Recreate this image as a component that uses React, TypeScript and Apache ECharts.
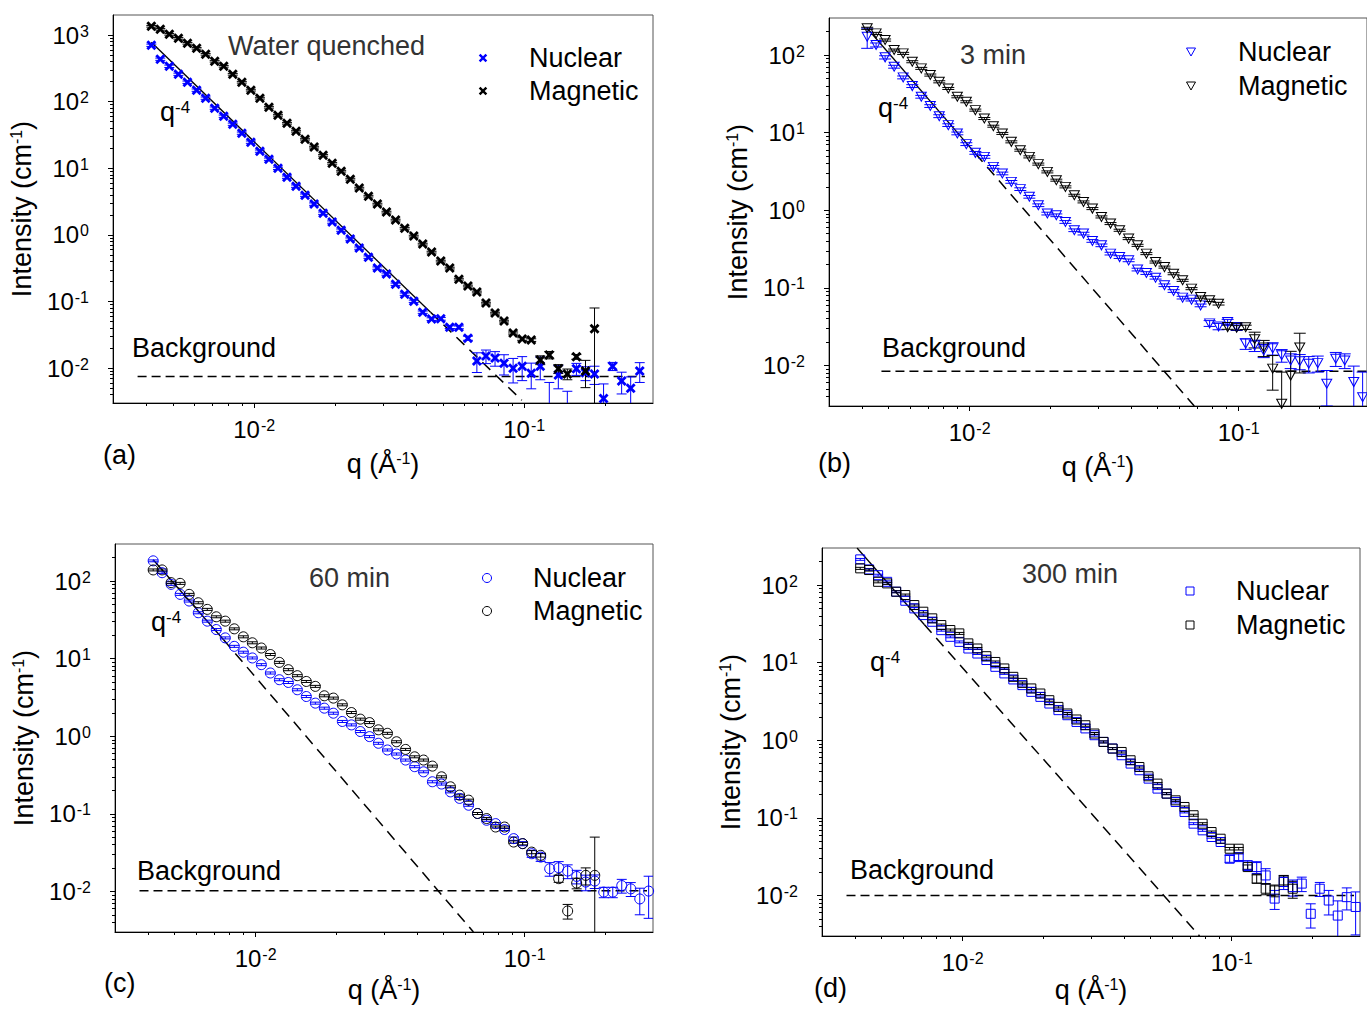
import React, { useEffect, useRef } from "react";
import * as echarts from "echarts";

const FONT = '"Liberation Sans", Arial, Helvetica, sans-serif';
const BLUE = "#0000ff";
const BLACK = "#000000";
const L = (v: number) => Math.log10(v);

// common q grid (Å^-1)
const Q = [0.00416, 0.00449, 0.00485, 0.00524, 0.00566, 0.00612, 0.00661, 0.00714, 0.00771, 0.00833,
  0.0090, 0.00972, 0.0105, 0.01134, 0.01225, 0.01323, 0.01429, 0.01543, 0.01667, 0.0180,
  0.01945, 0.0210, 0.0227, 0.0245, 0.0265, 0.0286, 0.0309, 0.0334, 0.0361, 0.0390,
  0.0421, 0.0454, 0.0491, 0.0530, 0.0573, 0.0619, 0.0668, 0.0722, 0.0780, 0.0842,
  0.0910, 0.0983, 0.1062, 0.1147, 0.1239, 0.1338, 0.1445, 0.1561, 0.1687, 0.1822,
  0.1968, 0.2126, 0.2296, 0.2480, 0.2679, 0.289];

// axis ticks
const X_RANGE = [0.003, 0.3];
const X_MAJOR = [0.01, 0.1];
const X_MINOR = [0.004, 0.005, 0.006, 0.007, 0.008, 0.009, 0.02, 0.03, 0.04, 0.05, 0.06, 0.07, 0.08, 0.09, 0.2];
const Y_RANGE_A = [0.003, 2000];
const Y_RANGE_BCD = [0.003, 300];
const Y_MAJOR_A = [0.01, 0.1, 1, 10, 100, 1000];
const Y_MAJOR_BCD = [0.01, 0.1, 1, 10, 100];
const MINOR_MULT = [2, 3, 4, 5, 6, 7, 8, 9];
const DECADES_A = [0.001, 0.01, 0.1, 1, 10, 100, 1000];
const DECADES_BCD = [0.001, 0.01, 0.1, 1, 10, 100];

// (a) Water quenched
const NUC_A = [703, 434, 340, 258, 196, 149, 113, 80, 60.5, 45.9, 33.7, 24.7, 18.1, 13.7, 10.0, 7.36, 5.40, 3.95, 2.90, 2.12,
  1.56, 1.18, 0.865, 0.634, 0.464, 0.318, 0.258, 0.182, 0.129, 0.101, 0.0693, 0.0545, 0.055, 0.0413, 0.041, 0.0282,
  0.0128, 0.0152, 0.0142, 0.0119, 0.0100, 0.0107, 0.0084, 0.0107, 0.0015, 0.0079, 0.0020, 0.0098, 0.0085, 0.0082,
  0.0035, 0.0107, 0.0064, 0.0050, 0.0091];
const NUC_A_ERR = [28, 17, 14, 10, 8, 6, 4.5, 3.2, 2.4, 1.8, 1.3, 1.0, 0.7, 0.55, 0.4, 0.3, 0.22, 0.16, 0.12, 0.085,
  0.062, 0.047, 0.035, 0.025, 0.019, 0.013, 0.010, 0.0073, 0.0052, 0.004, 0.0028, 0.0025, 0.0025, 0.002, 0.002, 0.002,
  0.0042, 0.0035, 0.0035, 0.004, 0.004, 0.0042, 0.0035, 0.004, 0.0046, 0.003, 0.0025, 0.002, 0.002, 0.0025,
  0.0023, 0.0015, 0.0023, 0.0024, 0.003];
const MAG_A = [1355, 1222, 1028, 895, 753, 634, 515, 405, 340, 258, 196, 149, 113, 82.6, 62.7, 47.5, 36.1, 27.4, 20.8, 15.7,
  11.9, 9.06, 6.87, 5.04, 3.82, 2.90, 2.20, 1.67, 1.26, 0.96, 0.728, 0.552, 0.405, 0.318, 0.217, 0.171, 0.139, 0.0948,
  0.0671, 0.0509, 0.0337, 0.0274, 0.0264, 0.0133, 0.0158, 0.0098, 0.0082, 0.0148, 0.0091, 0.039];
const MAG_A_ERR = [40, 36, 30, 26, 22, 18, 15, 12, 10, 7.7, 5.9, 4.5, 3.4, 2.5, 1.9, 1.4, 1.1, 0.82, 0.62, 0.47,
  0.36, 0.27, 0.21, 0.15, 0.11, 0.087, 0.066, 0.05, 0.038, 0.029, 0.022, 0.017, 0.012, 0.0095, 0.0065, 0.0051, 0.0042,
  0.0028, 0.002, 0.0015, 0.0012, 0.0012, 0.0012, 0.002, 0.002, 0.0015, 0.0015, 0.0012, 0.004, 0.041];
const BG_Q_A = [0.0037, 0.28];
const BG_I_A = [0.0075, 0.0075];
const FIT_Q_A = [0.00416, 0.045, 0.098];
const FIT_I_A = [780, 0.069, 0.0033];

// (b) 3 min
const NUC_B = [172, 135, 93.4, 70.7, 51.5, 39.8, 29.0, 22.0, 16.3, 12.5, 9.77, 7.11, 5.49, 4.87, 3.62, 2.98, 2.32, 1.87,
  1.49, 1.16, 0.906, 0.861, 0.706, 0.552, 0.500, 0.402, 0.353, 0.276, 0.249, 0.226, 0.172, 0.155, 0.135, 0.108, 0.091,
  0.0748, 0.0705, 0.0594, 0.0348, 0.0318, 0.0362, 0.0312, 0.0191, 0.0181, 0.0156, 0.0166, 0.0135, 0.0116, 0.0113,
  0.0105, 0.0107, 0.0058, 0.0122, 0.0116, 0.0061, 0.0039];
const NUC_B_ERR = [50, 8, 4.5, 3, 2.2, 1.7, 1.2, 0.9, 0.7, 0.5, 0.4, 0.3, 0.23, 0.2, 0.15, 0.12, 0.095, 0.075, 0.06, 0.047,
  0.037, 0.035, 0.029, 0.022, 0.02, 0.016, 0.014, 0.011, 0.01, 0.009, 0.0069, 0.0062, 0.0054, 0.0043, 0.0036, 0.003,
  0.0028, 0.0024, 0.003, 0.003, 0.003, 0.003, 0.003, 0.003, 0.003, 0.003, 0.0025, 0.0025, 0.0025, 0.0025,
  0.0025, 0.0028, 0.0025, 0.0025, 0.0037, 0.0043];
const MAG_B = [221, 190, 156, 116, 105, 82, 67.3, 55.2, 45.2, 37.1, 29.0, 25.0, 19.5, 15.2, 12.1, 9.77, 7.61, 5.94, 4.87,
  3.93, 3.12, 2.44, 2.00, 1.56, 1.28, 1.05, 0.82, 0.673, 0.552, 0.431, 0.353, 0.276, 0.215, 0.185, 0.152, 0.125, 0.0976,
  0.076, 0.069, 0.0625, 0.0312, 0.0306, 0.031, 0.0218, 0.0170, 0.0091, 0.0032, 0.0074, 0.017];
const MAG_B_ERR = [7, 6, 5, 3.5, 3.2, 2.5, 2, 1.7, 1.4, 1.1, 0.9, 0.75, 0.6, 0.46, 0.36, 0.29, 0.23, 0.18, 0.15, 0.12,
  0.094, 0.073, 0.06, 0.047, 0.038, 0.032, 0.025, 0.02, 0.017, 0.013, 0.011, 0.0083, 0.0065, 0.0056, 0.0046, 0.0038,
  0.003, 0.0025, 0.0025, 0.0025, 0.002, 0.002, 0.002, 0.005, 0.004, 0.0043, 0.005, 0.0078, 0.009];
const BG_Q_B = [0.0047, 0.3];
const BG_I_B = [0.0084, 0.0084];
const FIT_Q_B = [0.00416, 0.0105, 0.0684];
const FIT_I_B = [221, 5.4, 0.003];

// (c) 60 min
const NUC_C = [182, 128, 90.6, 67.3, 55.2, 39.0, 30.4, 23.7, 18.5, 14.4, 12.1, 10.2, 8.36, 6.53, 5.35, 4.93, 3.97, 3.25,
  2.67, 2.30, 1.98, 1.55, 1.40, 1.15, 0.989, 0.811, 0.665, 0.590, 0.493, 0.405, 0.348, 0.259, 0.242, 0.192, 0.158,
  0.129, 0.101, 0.0826, 0.0748, 0.0627, 0.0479, 0.0413, 0.0306, 0.0277, 0.0196, 0.0202, 0.0183, 0.0156, 0.0132,
  0.0136, 0.0098, 0.0098, 0.0119, 0.0108, 0.0080, 0.0101];
const NUC_C_ERR = [5, 3.5, 2.7, 2, 1.6, 1.2, 0.9, 0.7, 0.55, 0.43, 0.36, 0.3, 0.25, 0.2, 0.16, 0.15, 0.12, 0.1, 0.08, 0.07,
  0.06, 0.047, 0.042, 0.035, 0.03, 0.024, 0.02, 0.018, 0.015, 0.012, 0.01, 0.008, 0.0073, 0.0058, 0.0047, 0.0039,
  0.003, 0.0025, 0.0022, 0.0019, 0.0024, 0.0025, 0.0031, 0.0033, 0.0039, 0.004, 0.0037, 0.0031, 0.003, 0.0027,
  0.0015, 0.0015, 0.0024, 0.0022, 0.003, 0.0056];
const MAG_C = [139, 139, 95.3, 93.3, 67.3, 52.5, 43.1, 34.6, 30.4, 24.2, 19.1, 16.0, 13.7, 11.3, 8.95, 7.21, 6.03, 5.08,
  4.39, 3.32, 3.10, 2.54, 2.02, 1.66, 1.50, 1.21, 1.09, 0.849, 0.676, 0.543, 0.493, 0.412, 0.300, 0.223, 0.174, 0.150,
  0.101, 0.0869, 0.0676, 0.0676, 0.0433, 0.0413, 0.0321, 0.0292, null, 0.0146, 0.0056, 0.0128, 0.0161, 0.0161];
const MAG_C_ERR = [4, 4, 2.8, 2.8, 2, 1.6, 1.3, 1, 0.9, 0.7, 0.57, 0.48, 0.41, 0.34, 0.27, 0.22, 0.18, 0.15, 0.13, 0.1,
  0.093, 0.076, 0.06, 0.05, 0.045, 0.036, 0.033, 0.025, 0.02, 0.016, 0.015, 0.012, 0.009, 0.0067, 0.0052, 0.0045,
  0.003, 0.0026, 0.002, 0.002, 0.0015, 0.0015, 0.0015, 0.0015, null, 0.0015, 0.0012, 0.002, 0.004, 0.034];
const BG_Q_C = [0.0037, 0.285];
const BG_I_C = [0.0102, 0.0102];
const FIT_Q_C = [0.00416, 0.0076, 0.0645];
const FIT_I_C = [188, 17.5, 0.003];

// (d) 300 min
const NUC_D = [214, 159, 134, 110, 82, 62.7, 50, 41, 33.6, 26.2, 21.5, 18.5, 15.2, 13.1, 10.8, 8.83, 7.26, 6.07, 5.13,
  4.20, 3.62, 2.97, 2.44, 2.10, 1.72, 1.42, 1.16, 0.951, 0.782, 0.640, 0.500, 0.410, 0.320, 0.238, 0.205, 0.160, 0.119,
  0.0841, 0.069, 0.0566, 0.0488, 0.0297, 0.0312, 0.0244, 0.0232, 0.0181, 0.0091, 0.0149, 0.0128, 0.0142, 0.0058,
  0.0122, 0.0086, 0.0055, 0.0095, 0.0071];
const NUC_D_ERR = [6, 4.5, 3.8, 3.1, 2.3, 1.8, 1.4, 1.2, 0.95, 0.75, 0.6, 0.52, 0.43, 0.37, 0.3, 0.25, 0.2, 0.17, 0.14,
  0.12, 0.1, 0.083, 0.068, 0.059, 0.048, 0.04, 0.032, 0.027, 0.022, 0.018, 0.014, 0.011, 0.009, 0.0067, 0.0057, 0.0045,
  0.0033, 0.0024, 0.002, 0.002, 0.002, 0.003, 0.003, 0.0035, 0.004, 0.004, 0.0025, 0.003, 0.003, 0.003, 0.002,
  0.0025, 0.003, 0.003, 0.003, 0.004];
const MAG_D = [164, 156, 110, 105, 82, 74.3, 55.2, 45.3, 37.2, 30.5, 26.3, 23.8, 17.7, 15.2, 12.1, 10.2, 8.41, 6.56, 5.48,
  4.65, 4.00, 3.28, 2.69, 2.21, 1.85, 1.56, 1.22, 0.951, 0.78, 0.706, 0.552, 0.452, 0.343, 0.276, 0.205, 0.168, 0.138,
  0.108, 0.084, 0.0656, 0.0538, 0.040, 0.040, 0.0232, 0.0164, 0.0122, 0.0116, 0.0156, 0.0122];
const MAG_D_ERR = [5, 4.7, 3.3, 3.2, 2.5, 2.2, 1.7, 1.4, 1.1, 0.9, 0.8, 0.7, 0.53, 0.46, 0.36, 0.3, 0.25, 0.2, 0.16, 0.14,
  0.12, 0.1, 0.08, 0.066, 0.055, 0.047, 0.037, 0.029, 0.023, 0.021, 0.017, 0.014, 0.01, 0.0083, 0.0062, 0.005, 0.0041,
  0.0032, 0.0025, 0.002, 0.0016, 0.0015, 0.0015, 0.0015, 0.002, 0.002, 0.002, 0.0025, 0.003];
const BG_Q_D = [0.0037, 0.285];
const BG_I_D = [0.0100, 0.0100];
const FIT_Q_D = [0.00405, 0.0072, 0.076];
const FIT_I_D = [300, 31, 0.003];

const X_SYMBOL = "path://M0,2L2,0L5,3L8,0L10,2L7,5L10,8L8,10L5,7L2,10L0,8L3,5Z";
const TRI_SYMBOL = "path://M0,0L10,0L5,9Z";
const X_PTS = [[0, 2], [2, 0], [5, 3], [8, 0], [10, 2], [7, 5], [10, 8], [8, 10], [5, 7], [2, 10], [0, 8], [3, 5]];

const PANELS: any[] = [
  {
    grid: { left: 113, top: 15, width: 540, height: 388 },
    yRange: Y_RANGE_A, yMajor: Y_MAJOR_A, decades: DECADES_A,
    kind: "x", cap: 5, xNameGap: 47,
    nuc: NUC_A, nucErr: NUC_A_ERR, mag: MAG_A, magErr: MAG_A_ERR,
    bgQ: BG_Q_A, bgI: BG_I_A, fitQ: FIT_Q_A, fitI: FIT_I_A,
    title: "Water quenched", titlePos: [228, 46], qPos: [160, 112], bgPos: [132, 348],
    legPos: [[483, 58], [483, 91]], legText: 529, tag: "(a)", tagPos: [103, 455],
  },
  {
    grid: { left: 829, top: 18, width: 538, height: 388 },
    yRange: Y_RANGE_BCD, yMajor: Y_MAJOR_BCD, decades: DECADES_BCD,
    kind: "tri", cap: 6, xNameGap: 47,
    nuc: NUC_B, nucErr: NUC_B_ERR, mag: MAG_B, magErr: MAG_B_ERR,
    bgQ: BG_Q_B, bgI: BG_I_B, fitQ: FIT_Q_B, fitI: FIT_I_B,
    title: "3 min", titlePos: [960, 55], qPos: [878, 108], bgPos: [882, 348],
    legPos: [[1191, 52], [1191, 86]], legText: 1238, tag: "(b)", tagPos: [818, 463],
  },
  {
    grid: { left: 115, top: 544, width: 538, height: 388 },
    yRange: Y_RANGE_BCD, yMajor: Y_MAJOR_BCD, decades: DECADES_BCD,
    kind: "circle", cap: 5, xNameGap: 44,
    nuc: NUC_C, nucErr: NUC_C_ERR, mag: MAG_C, magErr: MAG_C_ERR,
    bgQ: BG_Q_C, bgI: BG_I_C, fitQ: FIT_Q_C, fitI: FIT_I_C,
    title: "60 min", titlePos: [309, 578], qPos: [151, 622], bgPos: [137, 871],
    legPos: [[487, 578], [487, 611]], legText: 533, tag: "(c)", tagPos: [104, 983],
  },
  {
    grid: { left: 822, top: 548, width: 538, height: 388 },
    yRange: Y_RANGE_BCD, yMajor: Y_MAJOR_BCD, decades: DECADES_BCD,
    kind: "square", cap: 5, xNameGap: 40,
    nuc: NUC_D, nucErr: NUC_D_ERR, mag: MAG_D, magErr: MAG_D_ERR,
    bgQ: BG_Q_D, bgI: BG_I_D, fitQ: FIT_Q_D, fitI: FIT_I_D,
    title: "300 min", titlePos: [1022, 574], qPos: [870, 662], bgPos: [850, 870],
    legPos: [[1190, 591], [1190, 625]], legText: 1236, tag: "(d)", tagPos: [814, 988],
  },
];

const tickRich = {
  b: { fontSize: 24, fontFamily: FONT, color: "#000" },
  s: { fontSize: 16, fontFamily: FONT, color: "#000", verticalAlign: "top", padding: [0, 0, 0, 1] },
};
const nameRich = {
  s: { fontSize: 16, fontFamily: FONT, color: "#000", verticalAlign: "top" },
};
const fmtPow = (v: number) => `{b|10}{s|${Math.round(v)}}`;

function symbolFor(kind: string) {
  if (kind === "x") return { symbol: X_SYMBOL, size: 10, filled: true };
  if (kind === "tri") return { symbol: TRI_SYMBOL, size: [10, 9], filled: false };
  if (kind === "circle") return { symbol: "circle", size: 10, filled: false };
  return { symbol: "rect", size: 9, filled: false };
}

function scatterSeries(k: number, name: string, I: any[], kind: string, color: string) {
  const s = symbolFor(kind);
  const data: number[][] = [];
  I.forEach((v, i) => { if (v != null) data.push([L(Q[i]), L(v)]); });
  return {
    type: "scatter", name, xAxisIndex: 2 * k, yAxisIndex: 2 * k, data, clip: true, silent: true,
    symbol: s.symbol, symbolSize: s.size, z: 4,
    itemStyle: s.filled
      ? { color, borderWidth: 0, opacity: 1 }
      : { color: "rgba(0,0,0,0)", borderColor: color, borderWidth: 1, opacity: 1 },
  };
}

function errorSeries(k: number, name: string, I: any[], err: any[], color: string, cap: number) {
  const data: number[][] = [];
  I.forEach((v, i) => {
    if (v == null || err[i] == null) return;
    const lo = v - err[i];
    data.push([L(Q[i]), lo > 0 ? L(lo) : -6, L(v + err[i])]);
  });
  return {
    type: "custom", name: name + " error", xAxisIndex: 2 * k, yAxisIndex: 2 * k, clip: true, silent: true, z: 3,
    encode: { x: 0, y: [1, 2] },
    data,
    renderItem: (params: any, api: any) => {
      const x = api.value(0);
      const pLo = api.coord([x, api.value(1)]);
      const pHi = api.coord([x, api.value(2)]);
      const style = { stroke: color, lineWidth: 1, fill: "none" };
      return {
        type: "group",
        children: [
          { type: "line", shape: { x1: pLo[0], y1: pLo[1], x2: pHi[0], y2: pHi[1] }, style },
          { type: "line", shape: { x1: pHi[0] - cap, y1: pHi[1], x2: pHi[0] + cap, y2: pHi[1] }, style },
          { type: "line", shape: { x1: pLo[0] - cap, y1: pLo[1], x2: pLo[0] + cap, y2: pLo[1] }, style },
        ],
      };
    },
  };
}

function legendMarker(kind: string, cx: number, cy: number, color: string) {
  if (kind === "x") {
    return { type: "polygon", silent: true, shape: { points: X_PTS.map((p) => [cx + (p[0] - 5) * 0.85, cy + (p[1] - 5) * 0.85]) }, style: { fill: color } };
  }
  if (kind === "tri") {
    return { type: "polygon", silent: true, shape: { points: [[cx - 4.5, cy - 4], [cx + 4.5, cy - 4], [cx, cy + 4]] }, style: { fill: "none", stroke: color, lineWidth: 1 } };
  }
  if (kind === "circle") {
    return { type: "circle", silent: true, shape: { cx, cy, r: 4.5 }, style: { fill: "none", stroke: color, lineWidth: 1 } };
  }
  return { type: "rect", silent: true, shape: { x: cx - 4, y: cy - 4, width: 8, height: 8 }, style: { fill: "none", stroke: color, lineWidth: 1 } };
}

function textEl(text: string, x: number, y: number, color = "#000", size = 27) {
  return {
    type: "text", x, y, silent: true,
    style: {
      text, fill: color, fontSize: size, fontFamily: FONT, align: "left", verticalAlign: "middle",
      rich: { s: { fontSize: 17, fontFamily: FONT, fill: color, verticalAlign: "top" } },
    },
  };
}

function buildOption() {
  const grids: any[] = [];
  const xAxes: any[] = [];
  const yAxes: any[] = [];
  const series: any[] = [];
  const graphics: any[] = [];

  PANELS.forEach((p, k) => {
    grids.push({ ...p.grid, show: true, borderColor: "#555", borderWidth: 1, backgroundColor: "transparent", containLabel: false, outerBoundsMode: "none" });
    const yMinor: number[] = [];
    p.decades.forEach((d: number) => MINOR_MULT.forEach((m) => {
      const v = d * m;
      if (v > p.yRange[0] * 1.0001 && v < p.yRange[1] * 0.9999) yMinor.push(L(v));
    }));
    const xMin = L(X_RANGE[0]), xMax = L(X_RANGE[1]);
    const yMin = L(p.yRange[0]), yMax = L(p.yRange[1]);
    xAxes.push({
      gridIndex: k, type: "value", min: xMin, max: xMax, position: "bottom",
      axisLine: { show: true, onZero: false, lineStyle: { color: "#000", width: 1 } },
      axisTick: { show: true, inside: false, length: 5, customValues: X_MAJOR.map(L), lineStyle: { color: "#000", width: 1 } },
      axisLabel: { show: true, customValues: X_MAJOR.map(L), formatter: fmtPow, rich: tickRich, margin: 14 },
      splitLine: { show: false },
      name: "q (Å{s|-1})", nameLocation: "middle", nameGap: p.xNameGap,
      nameTextStyle: { fontSize: 27, fontFamily: FONT, color: "#000", rich: nameRich },
    });
    xAxes.push({
      gridIndex: k, type: "value", min: xMin, max: xMax, position: "bottom",
      axisLine: { show: false, onZero: false }, axisLabel: { show: false }, splitLine: { show: false },
      axisTick: { show: true, inside: false, length: 3, customValues: X_MINOR.map(L), lineStyle: { color: "#000", width: 1 } },
    });
    yAxes.push({
      gridIndex: k, type: "value", min: yMin, max: yMax, position: "left",
      axisLine: { show: true, onZero: false, lineStyle: { color: "#000", width: 1 } },
      axisTick: { show: true, inside: false, length: 5, customValues: p.yMajor.map(L), lineStyle: { color: "#000", width: 1 } },
      axisLabel: { show: true, customValues: p.yMajor.map(L), formatter: fmtPow, rich: tickRich, margin: 24 },
      splitLine: { show: false },
      name: "Intensity (cm{s|-1})", nameLocation: "middle", nameGap: 78,
      nameTextStyle: { fontSize: 27, fontFamily: FONT, color: "#000", rich: nameRich },
    });
    yAxes.push({
      gridIndex: k, type: "value", min: yMin, max: yMax, position: "left",
      axisLine: { show: false, onZero: false }, axisLabel: { show: false }, splitLine: { show: false },
      axisTick: { show: true, inside: false, length: 3, customValues: yMinor, lineStyle: { color: "#000", width: 1 } },
    });

    const ax = { xAxisIndex: 2 * k, yAxisIndex: 2 * k };
    series.push({
      type: "line", ...ax, silent: true, symbol: "none", z: 2, clip: true,
      data: p.bgQ.map((q: number, i: number) => [L(q), L(p.bgI[i])]),
      lineStyle: { color: "#000", width: 1.5, type: [9, 5] },
    });
    series.push({
      type: "line", ...ax, silent: true, symbol: "none", z: 2, clip: true,
      data: [0, 1].map((i) => [L(p.fitQ[i]), L(p.fitI[i])]),
      lineStyle: { color: "#000", width: 1.3, type: "solid" },
    });
    series.push({
      type: "line", ...ax, silent: true, symbol: "none", z: 2, clip: true,
      data: [1, 2].map((i) => [L(p.fitQ[i]), L(p.fitI[i])]),
      lineStyle: { color: "#000", width: 1.5, type: [11, 7] },
    });
    series.push(errorSeries(k, "Nuclear " + k, p.nuc, p.nucErr, BLUE, p.cap));
    series.push(scatterSeries(k, "Nuclear " + k, p.nuc, p.kind, BLUE));
    series.push(errorSeries(k, "Magnetic " + k, p.mag, p.magErr, BLACK, p.cap));
    series.push(scatterSeries(k, "Magnetic " + k, p.mag, p.kind, BLACK));

    graphics.push(textEl(p.title, p.titlePos[0], p.titlePos[1], "#333"));
    graphics.push(textEl("q{s|-4}", p.qPos[0], p.qPos[1]));
    graphics.push(textEl("Background", p.bgPos[0], p.bgPos[1]));
    graphics.push(legendMarker(p.kind, p.legPos[0][0], p.legPos[0][1], BLUE));
    graphics.push(legendMarker(p.kind, p.legPos[1][0], p.legPos[1][1], BLACK));
    graphics.push(textEl("Nuclear", p.legText, p.legPos[0][1]));
    graphics.push(textEl("Magnetic", p.legText, p.legPos[1][1]));
    graphics.push(textEl(p.tag, p.tagPos[0], p.tagPos[1]));
  });

  return {
    animation: false,
    backgroundColor: "#ffffff",
    textStyle: { fontFamily: FONT },
    grid: grids,
    xAxis: xAxes,
    yAxis: yAxes,
    series,
    graphic: graphics,
  };
}

export default function App() {
  const ref = useRef<HTMLDivElement>(null);
  useEffect(() => {
    if (!ref.current) return;
    const chart = echarts.init(ref.current, null, { renderer: "svg" });
    chart.setOption(buildOption() as any);
    return () => chart.dispose();
  }, []);
  return (
    <div
      ref={ref}
      style={{ position: "absolute", left: 0, top: 0, width: 1367, height: 1010, background: "#fff" }}
    />
  );
}
